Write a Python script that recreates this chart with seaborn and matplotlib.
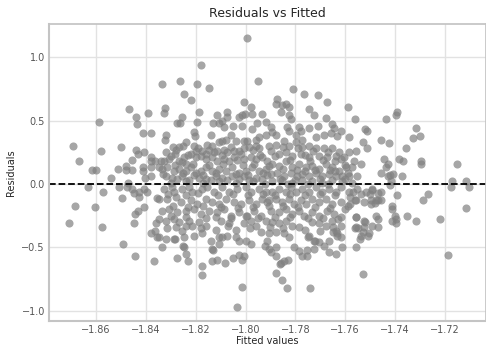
import pandas as pd
import seaborn as sns
import matplotlib
matplotlib.use('Agg')
import matplotlib.pyplot as plt

# (fitted, residual) pairs, grouped by area of the plot
points_left = [
    (-1.8692, 0.30), (-1.8668, 0.18), (-1.8588, 0.49), (-1.8580, 0.26), (-1.8467, 0.59),
    (-1.8439, 0.53), (-1.8391, 0.56), (-1.8435, 0.47), (-1.8411, 0.40), (-1.8379, 0.40),
    (-1.8500, 0.29), (-1.8616, 0.11), (-1.8600, 0.11), (-1.8512, 0.12), (-1.8479, 0.14),
    (-1.8479, 0.11), (-1.8455, 0.11), (-1.8455, 0.19), (-1.8439, 0.27), (-1.8431, 0.24),
    (-1.8407, 0.25), (-1.8411, 0.13), (-1.8411, 0.10), (-1.8379, 0.13), (-1.8379, 0.21),
    (-1.8379, 0.18), (-1.8363, 0.18), (-1.8540, 0.05), (-1.8403, 0.05), (-1.8379, 0.06),
    (-1.8471, 0.01),
    (-1.8632, -0.02), (-1.8572, -0.06), (-1.8508, -0.02), (-1.8475, -0.02), (-1.8455, -0.04),
    (-1.8447, -0.07), (-1.8427, -0.06), (-1.8427, -0.10), (-1.8407, -0.04), (-1.8395, -0.06),
    (-1.8495, -0.11), (-1.8684, -0.17), (-1.8604, -0.18), (-1.8407, -0.18), (-1.8443, -0.24),
    (-1.8431, -0.21), (-1.8709, -0.31), (-1.8576, -0.34), (-1.8447, -0.31), (-1.8379, -0.39),
    (-1.8363, -0.37), (-1.8359, -0.31), (-1.8355, -0.42), (-1.8491, -0.47), (-1.8443, -0.57),
    (-1.8367, -0.61), (-1.8355, -0.11),
]

points_upper = [
    (-1.7994, 1.15), (-1.8178, 0.94), (-1.7949, 0.81), (-1.8335, 0.79), (-1.8262, 0.81),
    (-1.8194, 0.79), (-1.8246, 0.71), (-1.8218, 0.66), (-1.8146, 0.76), (-1.8005, 0.65),
    (-1.7977, 0.61), (-1.8323, 0.60), (-1.8327, 0.56), (-1.8254, 0.53), (-1.8186, 0.57),
    (-1.8194, 0.49), (-1.8274, 0.48), (-1.8262, 0.48), (-1.8114, 0.54), (-1.8073, 0.57),
    (-1.8073, 0.53), (-1.8130, 0.48), (-1.8106, 0.48), (-1.8094, 0.50), (-1.8025, 0.53),
    (-1.8013, 0.54), (-1.8001, 0.55), (-1.7973, 0.55), (-1.7933, 0.55), (-1.8085, 0.45),
    (-1.8049, 0.46), (-1.8013, 0.46), (-1.7973, 0.43), (-1.7953, 0.48), (-1.7917, 0.49),
    (-1.8138, 0.39), (-1.8206, 0.41), (-1.8202, 0.38), (-1.8319, 0.39), (-1.8323, 0.35),
    (-1.8057, 0.39), (-1.8077, 0.35), (-1.8094, 0.34), (-1.8106, 0.33), (-1.8037, 0.34),
    (-1.8005, 0.34), (-1.7993, 0.34), (-1.7957, 0.35), (-1.7945, 0.37), (-1.7917, 0.39),
    (-1.7985, 0.29), (-1.7957, 0.30), (-1.7945, 0.28),
    (-1.7808, 0.75), (-1.7764, 0.71), (-1.7708, 0.70), (-1.7671, 0.65), (-1.7587, 0.61),
    (-1.7559, 0.51), (-1.7872, 0.67), (-1.7876, 0.63), (-1.7852, 0.62), (-1.7836, 0.63),
    (-1.7824, 0.61), (-1.7856, 0.57), (-1.7744, 0.59), (-1.7724, 0.54), (-1.7675, 0.52),
    (-1.7824, 0.54), (-1.7816, 0.51), (-1.7832, 0.45), (-1.7784, 0.45), (-1.7744, 0.44),
    (-1.7708, 0.46), (-1.7651, 0.47), (-1.7643, 0.44), (-1.7615, 0.42), (-1.7583, 0.37),
    (-1.7519, 0.43), (-1.7511, 0.42), (-1.7897, 0.45), (-1.7893, 0.41), (-1.7876, 0.39),
    (-1.7824, 0.42), (-1.7796, 0.39), (-1.7776, 0.42), (-1.7772, 0.35), (-1.7716, 0.37),
    (-1.7683, 0.39), (-1.7655, 0.40), (-1.7631, 0.38), (-1.7527, 0.33), (-1.7511, 0.28),
    (-1.7583, 0.25), (-1.7555, 0.26),
]

points_right = [
    (-1.7390, 0.57), (-1.7394, 0.54), (-1.7434, 0.51), (-1.7314, 0.44), (-1.7298, 0.38),
    (-1.7326, 0.36), (-1.7454, 0.35), (-1.7422, 0.32), (-1.7354, 0.28), (-1.7442, 0.20),
    (-1.7382, 0.20), (-1.7366, 0.18), (-1.7294, 0.18), (-1.7294, 0.16), (-1.7149, 0.16),
    (-1.7426, 0.16), (-1.7434, 0.13), (-1.7454, 0.09), (-1.7426, 0.06), (-1.7406, 0.08),
    (-1.7370, 0.06), (-1.7414, 0.02), (-1.7169, 0.02), (-1.7113, 0.02), (-1.7418, 0.07),
    (-1.7563, 0.18), (-1.7535, 0.16), (-1.7595, 0.13), (-1.7571, 0.13),
    (-1.7265, -0.08), (-1.7289, -0.13), (-1.7217, -0.28), (-1.7113, -0.19), (-1.7185, -0.56),
    (-1.7173, -0.02), (-1.7101, -0.02), (-1.7350, -0.25), (-1.7314, -0.29), (-1.7390, -0.09),
    (-1.7410, -0.17), (-1.7410, -0.20), (-1.7398, -0.25), (-1.7394, -0.28), (-1.7394, -0.31),
    (-1.7410, -0.29), (-1.7454, -0.06), (-1.7454, -0.13), (-1.7478, -0.15), (-1.7466, -0.13),
    (-1.7495, -0.16), (-1.7466, -0.07), (-1.7491, -0.05), (-1.7499, -0.08), (-1.7535, -0.08),
    (-1.7555, -0.13), (-1.7567, -0.06), (-1.7579, -0.16), (-1.7491, -0.33), (-1.7466, -0.34),
    (-1.7466, -0.28), (-1.7519, -0.30), (-1.7555, -0.26), (-1.7507, -0.41), (-1.7539, -0.43),
    (-1.7527, -0.38), (-1.7559, -0.35), (-1.7547, -0.35), (-1.7418, -0.01),
]

points_core_top = [
    (-1.8238, 0.33), (-1.8250, 0.30), (-1.8266, 0.29), (-1.8278, 0.27), (-1.8319, 0.25),
    (-1.8282, 0.24), (-1.8206, 0.30), (-1.8198, 0.26), (-1.8174, 0.26), (-1.8154, 0.31),
    (-1.8146, 0.27), (-1.8126, 0.25), (-1.8114, 0.26), (-1.8085, 0.27), (-1.8073, 0.25),
    (-1.8045, 0.26), (-1.8025, 0.26), (-1.8005, 0.28),
    (-1.8307, 0.20), (-1.8339, 0.18), (-1.8327, 0.18), (-1.8246, 0.21), (-1.8218, 0.24),
    (-1.8266, 0.18), (-1.8254, 0.17), (-1.8238, 0.16), (-1.8198, 0.21), (-1.8178, 0.22),
    (-1.8158, 0.20), (-1.8134, 0.21), (-1.8114, 0.18), (-1.8085, 0.20), (-1.8065, 0.18),
    (-1.8045, 0.21), (-1.8033, 0.19), (-1.8005, 0.20), (-1.7977, 0.21), (-1.7957, 0.20),
    (-1.7933, 0.21), (-1.7913, 0.18),
    (-1.8347, 0.13), (-1.8335, 0.12), (-1.8315, 0.13), (-1.8286, 0.10), (-1.8266, 0.12),
    (-1.8238, 0.10), (-1.8218, 0.13), (-1.8198, 0.09), (-1.8178, 0.10), (-1.8158, 0.13),
    (-1.8134, 0.10), (-1.8106, 0.12), (-1.8077, 0.10), (-1.8053, 0.13), (-1.8025, 0.09),
    (-1.7997, 0.10), (-1.7973, 0.13), (-1.7945, 0.10), (-1.7917, 0.12),
    (-1.8319, 0.06), (-1.8294, 0.05), (-1.8274, 0.04), (-1.8254, 0.06), (-1.8226, 0.03),
    (-1.8206, 0.07), (-1.8186, 0.05), (-1.8158, 0.04), (-1.8138, 0.03), (-1.8118, 0.06),
    (-1.8094, 0.05), (-1.8073, 0.03), (-1.8053, 0.06), (-1.8025, 0.04), (-1.8005, 0.06),
    (-1.7985, 0.03), (-1.7957, 0.05), (-1.7933, 0.04), (-1.7913, 0.07),
    (-1.7876, 0.31), (-1.7844, 0.34), (-1.7824, 0.30), (-1.7796, 0.33), (-1.7772, 0.29),
    (-1.7744, 0.30), (-1.7716, 0.28), (-1.7683, 0.28), (-1.7651, 0.28), (-1.7623, 0.25),
    (-1.7603, 0.21),
    (-1.7897, 0.26), (-1.7864, 0.24), (-1.7836, 0.25), (-1.7812, 0.22), (-1.7776, 0.24),
    (-1.7744, 0.21), (-1.7704, 0.22), (-1.7671, 0.21), (-1.7635, 0.22), (-1.7615, 0.20),
    (-1.7893, 0.16), (-1.7864, 0.14), (-1.7836, 0.18), (-1.7812, 0.13), (-1.7784, 0.16),
    (-1.7756, 0.13), (-1.7732, 0.14), (-1.7704, 0.12), (-1.7675, 0.16), (-1.7651, 0.13),
    (-1.7623, 0.10),
    (-1.7897, 0.08), (-1.7872, 0.09), (-1.7844, 0.06), (-1.7816, 0.09), (-1.7792, 0.06),
    (-1.7772, 0.08), (-1.7744, 0.06), (-1.7716, 0.09), (-1.7692, 0.06), (-1.7663, 0.08),
    (-1.7635, 0.06), (-1.7611, 0.06), (-1.7583, 0.06), (-1.7551, 0.06),
    (-1.7893, 0.02), (-1.7852, 0.03), (-1.7812, 0.01), (-1.7772, 0.03), (-1.7732, 0.02),
    (-1.7692, 0.01), (-1.7651, 0.03), (-1.7611, 0.02), (-1.7571, 0.01),
]

points_core_bottom = [
    (-1.8327, -0.04), (-1.8294, -0.02), (-1.8286, -0.06), (-1.8254, -0.04), (-1.8226, -0.02),
    (-1.8214, -0.06), (-1.8174, -0.04), (-1.8154, -0.02), (-1.8126, -0.06), (-1.8094, -0.02),
    (-1.8065, -0.06), (-1.8033, -0.04), (-1.7997, -0.02), (-1.7977, -0.06), (-1.7945, -0.04),
    (-1.7917, -0.06),
    (-1.8347, -0.12), (-1.8315, -0.12), (-1.8278, -0.10), (-1.8258, -0.14), (-1.8218, -0.13),
    (-1.8194, -0.16), (-1.8158, -0.12), (-1.8134, -0.14), (-1.8106, -0.16), (-1.8077, -0.12),
    (-1.8045, -0.14), (-1.8017, -0.16), (-1.7985, -0.13), (-1.7957, -0.16), (-1.7933, -0.12),
    (-1.7913, -0.14),
    (-1.8335, -0.21), (-1.8307, -0.20), (-1.8274, -0.22), (-1.8238, -0.21), (-1.8206, -0.20),
    (-1.8178, -0.24), (-1.8146, -0.21), (-1.8114, -0.22), (-1.8085, -0.20), (-1.8057, -0.25),
    (-1.8025, -0.22), (-1.7993, -0.25), (-1.7965, -0.21), (-1.7937, -0.25),
    (-1.8347, -0.28), (-1.8319, -0.29), (-1.8286, -0.28), (-1.8266, -0.30), (-1.8226, -0.29),
    (-1.8214, -0.33), (-1.8186, -0.30), (-1.8158, -0.33), (-1.8098, -0.29), (-1.8065, -0.31),
    (-1.8005, -0.31), (-1.7977, -0.29), (-1.7957, -0.33), (-1.7917, -0.29),
    (-1.8315, -0.35), (-1.8278, -0.34), (-1.8254, -0.37), (-1.8206, -0.41), (-1.8174, -0.39),
    (-1.8106, -0.42), (-1.8094, -0.42), (-1.8073, -0.41), (-1.8037, -0.42), (-1.8025, -0.45),
    (-1.7997, -0.45), (-1.7977, -0.47), (-1.7937, -0.38), (-1.8347, -0.42), (-1.8319, -0.43),
    (-1.8286, -0.43), (-1.8246, -0.42), (-1.8335, -0.50), (-1.8138, -0.45), (-1.8134, -0.51),
    (-1.8246, -0.50), (-1.8238, -0.55), (-1.8274, -0.58), (-1.8230, -0.61), (-1.8134, -0.61),
    (-1.8114, -0.60), (-1.8081, -0.62), (-1.8049, -0.58), (-1.8025, -0.56), (-1.8005, -0.57),
    (-1.8013, -0.60), (-1.8174, -0.65), (-1.8174, -0.72), (-1.8013, -0.81), (-1.8033, -0.97),
    (-1.7921, -0.49), (-1.7913, -0.45), (-1.8070, -0.33), (-1.8106, -0.47), (-1.8130, -0.52),
    (-1.8250, -0.49), (-1.8283, -0.43),
    (-1.7893, -0.06), (-1.7864, -0.04), (-1.7836, -0.06), (-1.7816, -0.02), (-1.7796, -0.06),
    (-1.7772, -0.04), (-1.7744, -0.06), (-1.7716, -0.02), (-1.7692, -0.06), (-1.7663, -0.04),
    (-1.7635, -0.06), (-1.7615, -0.02), (-1.7583, -0.06), (-1.7551, -0.04), (-1.7515, -0.06),
    (-1.7491, -0.04),
    (-1.7905, -0.13), (-1.7876, -0.12), (-1.7852, -0.14), (-1.7824, -0.12), (-1.7804, -0.16),
    (-1.7776, -0.13), (-1.7756, -0.16), (-1.7732, -0.12), (-1.7704, -0.14), (-1.7675, -0.12),
    (-1.7651, -0.16), (-1.7615, -0.14), (-1.7587, -0.17), (-1.7559, -0.13), (-1.7523, -0.14),
    (-1.7495, -0.13), (-1.7474, -0.13),
    (-1.7897, -0.21), (-1.7864, -0.22), (-1.7836, -0.20), (-1.7812, -0.24), (-1.7784, -0.21),
    (-1.7764, -0.25), (-1.7732, -0.22), (-1.7704, -0.25), (-1.7671, -0.21), (-1.7643, -0.24),
    (-1.7615, -0.26), (-1.7555, -0.26), (-1.7523, -0.29), (-1.7474, -0.25),
    (-1.7893, -0.30), (-1.7864, -0.31), (-1.7836, -0.29), (-1.7812, -0.33), (-1.7784, -0.34),
    (-1.7732, -0.30), (-1.7704, -0.31), (-1.7675, -0.33), (-1.7651, -0.29), (-1.7635, -0.37),
    (-1.7615, -0.33), (-1.7555, -0.34), (-1.7523, -0.34), (-1.7503, -0.39), (-1.7535, -0.41),
    (-1.7905, -0.39), (-1.7876, -0.38), (-1.7844, -0.39), (-1.7824, -0.42), (-1.7744, -0.41),
    (-1.7724, -0.45), (-1.7704, -0.46), (-1.7683, -0.49), (-1.7663, -0.45), (-1.7631, -0.39),
    (-1.7615, -0.42), (-1.7611, -0.50), (-1.7555, -0.50),
    (-1.7905, -0.51), (-1.7876, -0.50), (-1.7897, -0.54), (-1.7804, -0.50), (-1.7784, -0.53),
    (-1.7752, -0.52), (-1.7772, -0.57), (-1.7752, -0.57), (-1.7663, -0.54), (-1.7635, -0.55),
    (-1.7876, -0.57), (-1.7856, -0.62), (-1.7844, -0.61), (-1.7828, -0.60), (-1.7876, -0.70),
    (-1.7852, -0.76), (-1.7832, -0.82), (-1.7740, -0.82), (-1.7527, -0.71), (-1.7724, -0.51),
    (-1.7720, -0.45), (-1.7748, -0.42), (-1.7647, -0.38), (-1.7631, -0.41), (-1.7860, -0.63),
]

# the packed middle of the cloud, where the dots overlap too much to read one by one
points_core_fill = [
    (-1.8290, 0.29), (-1.8190, 0.28), (-1.8135, 0.30), (-1.8060, 0.29), (-1.7970, 0.27),
    (-1.7905, 0.30), (-1.7850, 0.29), (-1.7790, 0.28), (-1.7730, 0.26), (-1.7670, 0.25),
    (-1.8300, 0.22), (-1.8230, 0.23), (-1.8160, 0.24), (-1.8095, 0.23), (-1.8020, 0.24),
    (-1.7940, 0.23), (-1.7880, 0.22), (-1.7820, 0.19), (-1.7760, 0.23), (-1.7690, 0.19),
    (-1.7640, 0.18), (-1.8285, 0.15), (-1.8210, 0.16), (-1.8145, 0.15), (-1.8090, 0.16),
    (-1.8010, 0.15), (-1.7965, 0.16), (-1.7905, 0.14), (-1.7850, 0.12), (-1.7795, 0.11),
    (-1.7740, 0.18), (-1.7720, 0.11), (-1.7660, 0.11), (-1.7600, 0.15), (-1.8330, 0.08),
    (-1.8250, 0.09), (-1.8170, 0.07), (-1.8120, 0.09), (-1.8040, 0.08), (-1.7990, 0.07),
    (-1.7930, 0.09), (-1.7860, 0.04), (-1.7800, 0.03), (-1.7760, 0.10), (-1.7700, 0.04),
    (-1.7640, 0.10), (-1.7590, 0.09), (-1.8300, 0.01), (-1.8240, 0.02), (-1.8170, 0.01),
    (-1.8105, 0.02), (-1.8040, 0.01), (-1.7970, 0.02), (-1.7920, 0.00), (-1.7830, 0.00),
    (-1.7750, 0.00), (-1.7670, 0.00), (-1.7600, 0.04),
    (-1.8310, -0.08), (-1.8240, -0.09), (-1.8190, -0.07), (-1.8110, -0.09), (-1.8050, -0.08),
    (-1.7990, -0.09), (-1.7930, -0.08), (-1.7880, -0.09), (-1.7820, -0.08), (-1.7760, -0.09),
    (-1.7700, -0.08), (-1.7640, -0.09), (-1.7580, -0.10), (-1.8290, -0.17), (-1.8230, -0.18),
    (-1.8170, -0.17), (-1.8100, -0.18), (-1.8030, -0.19), (-1.7970, -0.18), (-1.7905, -0.17),
    (-1.7850, -0.17), (-1.7790, -0.18), (-1.7720, -0.18), (-1.7660, -0.19), (-1.7600, -0.20),
    (-1.8300, -0.25), (-1.8240, -0.26), (-1.8160, -0.27), (-1.8120, -0.26), (-1.8060, -0.27),
    (-1.8000, -0.25), (-1.7950, -0.27), (-1.7880, -0.26), (-1.7820, -0.26), (-1.7750, -0.27),
    (-1.7690, -0.27), (-1.7630, -0.28), (-1.8240, -0.33), (-1.8180, -0.35), (-1.8120, -0.36),
    (-1.8040, -0.36), (-1.7980, -0.35), (-1.7900, -0.34), (-1.7850, -0.35), (-1.7760, -0.36),
    (-1.7700, -0.37), (-1.7650, -0.34),
]

all_points = (points_left + points_upper + points_right + points_core_top
              + points_core_bottom + points_core_fill)
df = pd.DataFrame(all_points, columns=['Fitted', 'Residuals'])

sns.set_theme(style='whitegrid', rc={'grid.color': '#e2e2e2'})
plt.rcParams['font.family'] = ['DejaVu Sans']

fig, ax = plt.subplots(figsize=(4.86, 3.45), dpi=100)
fig.subplots_adjust(left=0.101, right=1.0, bottom=0.070, top=0.930)

sns.scatterplot(data=df, x='Fitted', y='Residuals', color='grey', alpha=0.7,
                s=34, edgecolor=None, linewidth=0, ax=ax)
ax.axhline(0, color='black', linestyle='--', linewidth=1.3)

ax.set_xlim(-1.8789, -1.7034)
ax.set_ylim(-1.079, 1.26)
ax.set_xticks([-1.86, -1.84, -1.82, -1.80, -1.78, -1.76, -1.74, -1.72])
ax.set_yticks([-1.0, -0.5, 0.0, 0.5, 1.0])

ax.set_title('Residuals vs Fitted', fontsize=9, pad=5)
ax.set_xlabel('Fitted values', fontsize=7, labelpad=1)
ax.set_ylabel('Residuals', fontsize=7, labelpad=4)
ax.tick_params(axis='both', labelsize=7, labelcolor='#555555', pad=3, length=0)

for side in ['left', 'bottom', 'top', 'right']:
    ax.spines[side].set_color('#c4c4c4')
ax.spines['left'].set_linewidth(1.5)
ax.spines['bottom'].set_linewidth(1.5)

plt.savefig('out.png', dpi=100)
